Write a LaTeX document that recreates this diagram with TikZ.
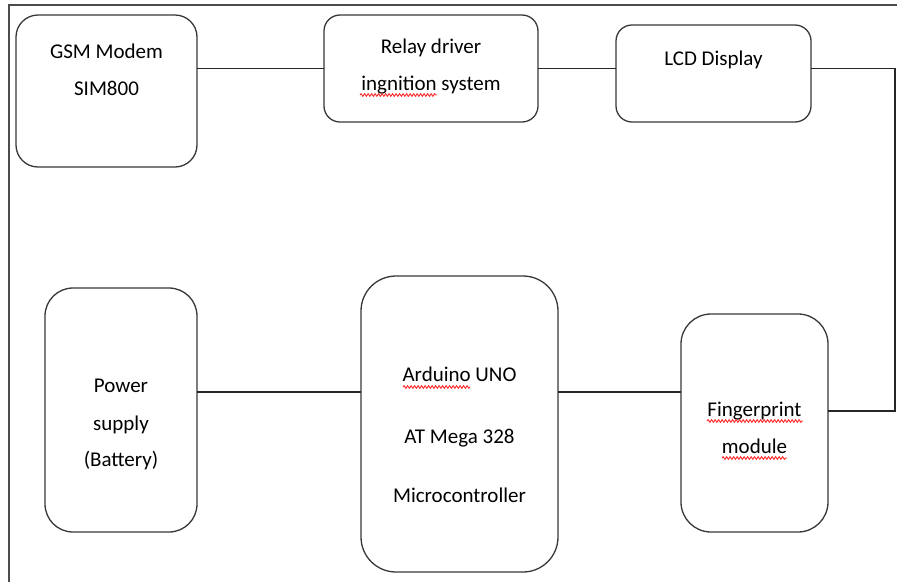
\documentclass[tikz,border=0pt]{standalone}
\usepackage{fontspec}
\setmainfont{Carlito}
\usetikzlibrary{calc,decorations.pathmorphing}
\begin{document}
\begin{tikzpicture}[x=1pt,y=-1pt,
  blockbox/.style={draw=black!78, line width=1.3pt, inner sep=0pt, outer sep=0pt, fill=white},
  txt/.style={anchor=base, inner sep=0pt, font=\fontsize{21}{25}\selectfont, text=black},
  wire/.style={draw=black!85, line width=1.3pt},
  framel/.style={draw=black!70, line width=1.2pt},
  squig/.style={draw=red!85, line width=0.9pt, decorate, decoration={snake, segment length=3.5pt, amplitude=1.3pt}}]
\useasboundingbox (0,0) rectangle (898,582);
% frame
\draw[framel] (9,582) -- (9,5) -- (897,5);
% boxes
\node[blockbox, rounded corners=22pt, minimum width=181pt, minimum height=152pt] (gsm) at (106.5,91) {};
\node[blockbox, rounded corners=16pt, minimum width=214pt, minimum height=107pt] (relay) at (431,68.5) {};
\node[blockbox, rounded corners=16pt, minimum width=195pt, minimum height=97pt] (lcd) at (713.5,73.5) {};
\node[blockbox, rounded corners=28pt, minimum width=152pt, minimum height=244pt] (power) at (121,410) {};
\node[blockbox, rounded corners=35pt, minimum width=197pt, minimum height=296pt] (ard) at (459.5,424) {};
\node[blockbox, rounded corners=30pt, minimum width=147pt, minimum height=218pt] (fp) at (754.5,423) {};
% texts
\node[txt] (g1) at (gsm.center |- 0,58) {GSM Modem};
\node[txt] (g2) at (gsm.center |- 0,95) {SIM800};
\node[txt] (r1) at (relay.center |- 0,53) {Relay driver};
\node[txt] (r2) at (relay.center |- 0,90) {ingnition system};
\node[txt] (l1) at (lcd.center |- 0,65) {LCD Display};
\node[txt] (p1) at (power.center |- 0,392) {Power};
\node[txt] (p2) at (power.center |- 0,430) {supply};
\node[txt] (p3) at (power.center |- 0,466) {(Battery)};
\node[txt] (a1) at (ard.center |- 0,381) {Arduino UNO};
\node[txt] (a2) at (ard.center |- 0,443) {AT Mega 328};
\node[txt] (a3) at (ard.center |- 0,502) {Microcontroller};
\node[txt] (f1) at (fp.center |- 0,416) {Fingerprint};
\node[txt] (f2) at (fp.center |- 0,453) {module};
% spell-check marks
\draw[squig] (360,95) -- (437,95);
\draw[squig] (403,387) -- (470,387);
\draw[squig] (707,421) -- (803,421);
\draw[squig] (722,458) -- (787,458);
% connectors
\draw[wire] (relay.west -| gsm.east) -- (relay.west);
\draw[wire] (relay.east) -- (relay.east -| lcd.west);
\path ($(fp.east)+(0,-12)$) coordinate (fpin);
\path (lcd.east |- relay.east) coordinate (lcdout);
\path (lcdout) ++(84,0) coordinate (rc);
\draw[wire] (lcdout) -- (rc) |- (fpin);
\path ($(power.east)+(0,-18)$) coordinate (pout);
\draw[wire] (pout) -- (pout -| ard.west);
\draw[wire] (pout -| ard.east) -- (pout -| fp.west);
\end{tikzpicture}
\end{document}
